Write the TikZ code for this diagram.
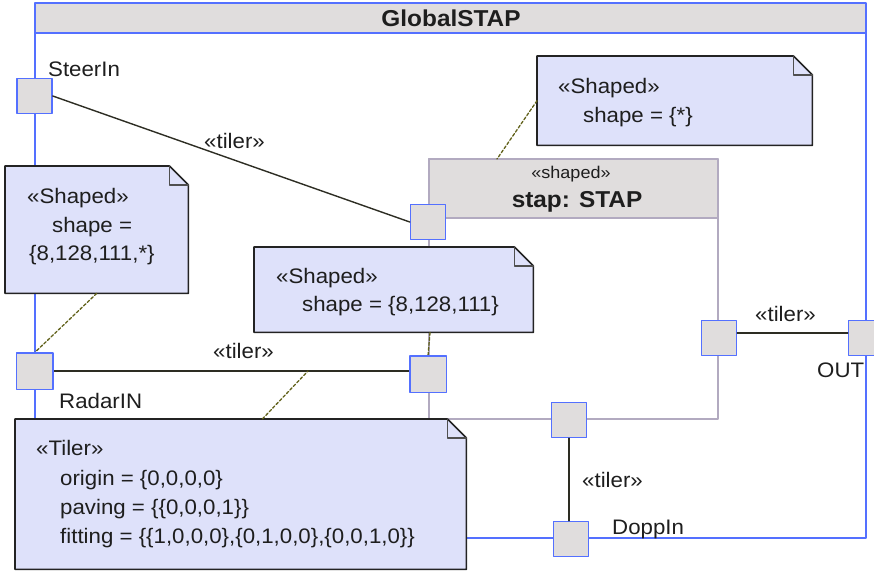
\documentclass[tikz,border=0pt]{standalone}
\usepackage{fontspec}
\setmainfont[FakeStretch=1.06]{Liberation Sans}
\usetikzlibrary{calc}

\definecolor{Fb}{RGB}{84,112,255}   % frame and port borders
\definecolor{Pg}{RGB}{224,221,221}  % port and header fill
\definecolor{Nb}{RGB}{222,225,250}  % note fill
\definecolor{Nd}{RGB}{35,35,35}     % note border
\definecolor{Sg}{RGB}{178,170,192}  % part outline
\definecolor{Ln}{RGB}{45,45,35}     % connectors
\definecolor{Tx}{RGB}{30,30,30}

\begin{document}
\begin{tikzpicture}[x=1pt, y=-1pt, line cap=round, line join=round,
  font=\fontsize{21}{26}\selectfont, text=Tx,
  port/.style={draw=Fb, fill=Pg, line width=1.5pt, minimum size=35pt, inner sep=0pt},
  lbl/.style={anchor=base west, inner sep=0pt},
  conn/.style={draw=Ln, line width=1.4pt},
  anchorline/.style={draw=Ln!75!yellow, line width=1.3pt, dash pattern=on 3pt off 2pt}]
  \useasboundingbox (0,0) rectangle (874,571);

  % note with folded corner: name, x1, y1, x2, y2
  \def\notebox#1#2#3#4#5{%
    \node[inner sep=0pt, minimum width={#4-#2}, minimum height={#5-#3}, anchor=north west] (#1) at (#2,#3) {};
    \filldraw[fill=Nb, draw=Nd, line width=1.6pt] (#1.north west) -- ($(#1.north east)+(-19,0)$)
      -- ($(#1.north east)+(0,19)$) -- (#1.south east) -- (#1.south west) -- cycle;
    \draw[Nd!80, line width=1.2pt] ($(#1.north east)+(-19,0)$) -- ++(0,19) -- ++(19,0);
  }

  % enclosing structured class
  \fill[Pg] (35,3) rectangle (866,33);
  \draw[Fb, line width=1.4pt] (35,3) rectangle (866,538);
  \draw[Fb, line width=1.4pt] (35,33) -- (866,33);
  \node[font=\fontsize{23}{28}\selectfont\bfseries] (gtitle) at (451,18) {GlobalSTAP};

  % inner part
  \filldraw[fill=Pg, draw=Sg, line width=1.1pt] (429,159) rectangle (718,218);
  \draw[Sg, line width=1.1pt] (429,159) rectangle (718,419);
  \node[font=\fontsize{17}{20}\selectfont] (stapst) at (571,174) {«shaped»};
  \node[font=\fontsize{23}{28}\selectfont\bfseries] (stapname) at (577,202) {stap: STAP};
  \coordinate (staptop) at (497,159);

  % ports
  \node[port] (steer) at (34.5,96) {};
  \node[port] (radar) at (34.5,371) {};
  \node[port] (sin1) at (428,222) {};
  \node[port] (sin2) at (428,374) {};
  \node[port] (sout) at (719,338) {};
  \node[port] (out) at (866,338) {};
  \node[port] (sdop) at (569,420) {};
  \node[port] (dopp) at (571,539) {};

  % delegation connectors
  \draw[conn] (steer.east) -- (sin1.west);
  \draw[conn] (radar.east) -- (radar.east -| sin2.west);
  \draw[conn] ([yshift=5pt]sout.east) -- ([yshift=5pt]out.west);
  \draw[conn] (sdop.south) -- (sdop.south |- dopp.north);
  \coordinate (radarmid) at (308,371);

  \node[lbl] (t1) at (204,148) {«tiler»};
  \node[lbl] (t2) at (213,358) {«tiler»};
  \node[lbl] (t3) at (755,321) {«tiler»};
  \node[lbl] (t4) at (582,487) {«tiler»};

  \node[lbl] (lsteer) at (48,76) {SteerIn};
  \node[lbl] (lradar) at (59,408) {RadarIN};
  \node[lbl] (lout) at (817,377) {OUT};
  \node[lbl] (ldopp) at (612,534) {DoppIn};

  % comments
  \notebox{nstar}{537}{56}{812}{145}
  \notebox{nleft}{5}{166}{188}{293}
  \notebox{nmid}{254}{247}{533}{332}
  \notebox{ntiler}{15}{419}{466}{569}

  \node[lbl] at (558,93) {«Shaped»};
  \node[lbl] at (583,122) {shape = \{*\}};

  \node[lbl] at (27,203) {«Shaped»};
  \node[lbl] at (52,232) {shape =};
  \node[lbl] at (29,260) {\{8,128,111,*\}};

  \node[lbl] at (276,283) {«Shaped»};
  \node[lbl] at (302,311) {shape = \{8,128,111\}};

  \node[lbl] at (36,455) {«Tiler»};
  \node[lbl] at (60,485) {origin = \{0,0,0,0\}};
  \node[lbl] at (60,514) {paving = \{\{0,0,0,1\}\}};
  \node[lbl] at (60,543) {fitting = \{\{1,0,0,0\},\{0,1,0,0\},\{0,0,1,0\}\}};

  % comment anchors
  \draw[anchorline] (nstar.west) -- (staptop);
  \draw[anchorline] (nleft.south) -- (radar.north);
  \draw[anchorline] ($(nmid.south west)!0.63!(nmid.south east)$) -- (sin2.north);
  \draw[anchorline] ($(ntiler.north west)!0.548!(ntiler.north east)$) -- (radarmid);

  % ports again on top of the anchors
  \foreach \p in {radar, sin2}
    \draw[Fb, fill=Pg, line width=1.5pt] (\p.north west) rectangle (\p.south east);
\end{tikzpicture}
\end{document}
